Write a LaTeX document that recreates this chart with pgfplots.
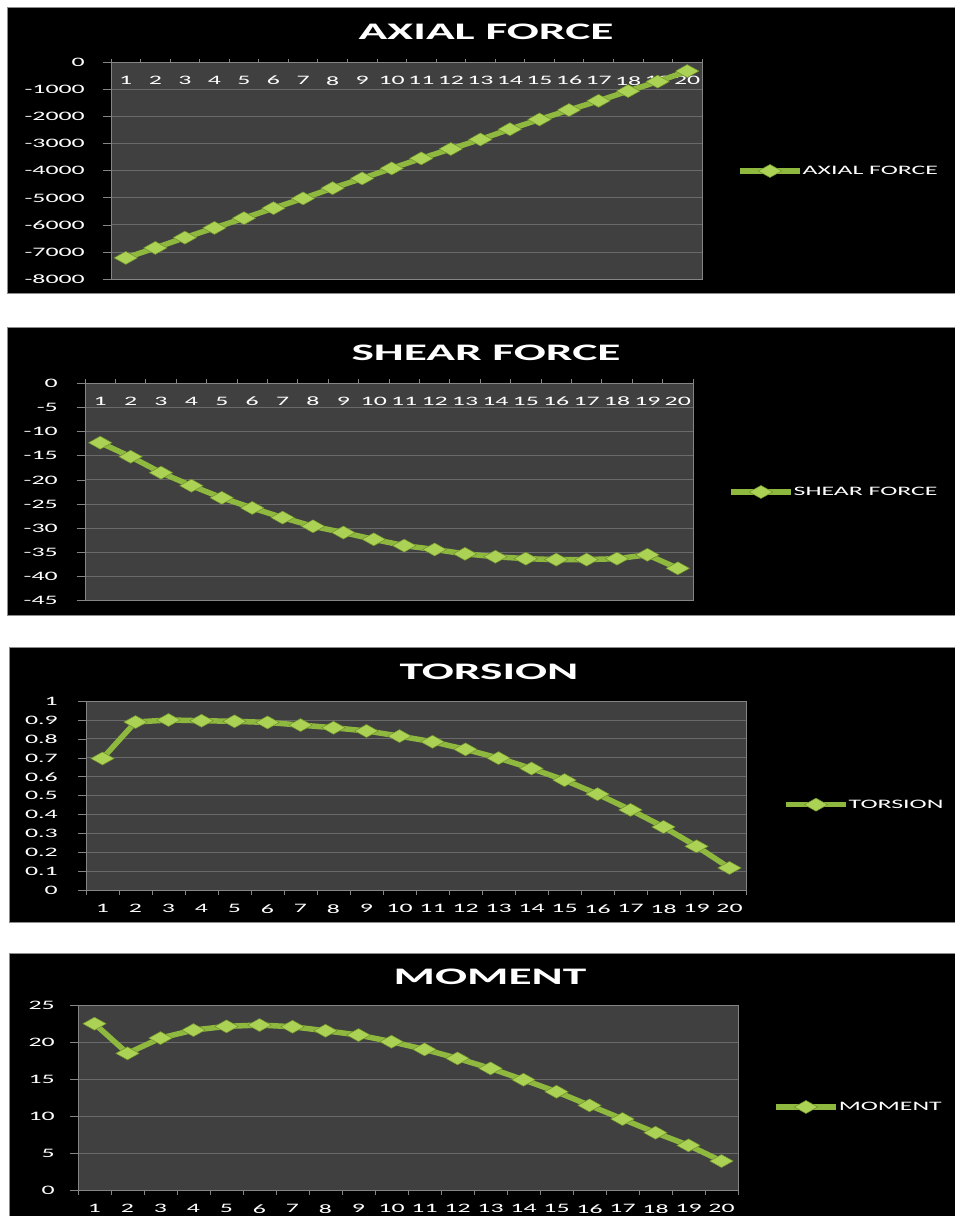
\documentclass[border=0pt]{standalone}
\usepackage{fontspec}
\setmainfont{Carlito}[FakeStretch=2]
\usepackage{pgfplots}
\pgfplotsset{compat=1.18}

\definecolor{plotbg}{HTML}{404040}
\definecolor{gridgray}{HTML}{6A6A6A}
\definecolor{axisgray}{HTML}{858585}
\definecolor{linegreen}{HTML}{8FB83F}
\definecolor{markgreen}{HTML}{ABD255}
\definecolor{markedge}{HTML}{6E8F2A}
\definecolor{paneledge}{HTML}{8C8C8C}

\newcommand\tickfont{\fontsize{12.9}{14}\selectfont}
\newcommand\titlefont{\fontsize{23.7}{26}\selectfont\bfseries}

\pgfplotsset{
  panel/.style={
    scale only axis,
    anchor=south west,
    xmin=0.5, xmax=20.5,
    axis background/.style={fill=plotbg},
    axis line style={draw=axisgray, line width=0.8pt},
    xtick={1,...,20},
    xtick style={draw=none},
    extra x ticks={0.5,1.5,...,20.5},
    extra x tick labels={},
    extra x tick style={grid=none, major tick length=4pt,
      xtick style={draw=axisgray, line width=0.8pt}},
    ymajorgrids,
    major grid style={draw=gridgray, line width=0.9pt},
    ytick pos=left,
    ytick style={draw=axisgray, line width=0.8pt},
    tick align=outside,
    major tick length=8pt,
    tick label style={font=\tickfont, text=white},
    /pgf/number format/assume math mode=true,
    legend style={draw=none, fill=none, text=white, font=\tickfont,
      inner sep=0pt, anchor=west, column sep=0pt,
      nodes={inner xsep=0pt, inner ysep=1pt}},
    legend image code/.code={\draw[##1, mark repeat=2, mark phase=2]
      plot coordinates {(0pt,0pt) (30pt,0pt) (60pt,0pt)};},
  },
  toplabels/.style={
    xtick pos=right,
    xticklabel pos=right,
    xticklabel style={anchor=center, yshift=-26pt},
  },
  bottomlabels/.style={
    xtick pos=left,
    xticklabel pos=left,
    xticklabel style={anchor=center, yshift=-10pt},
  },
  ylabelgap/.style={yticklabel style={inner sep=0pt, xshift=-#1}},
  curve/.style={color=linegreen, line width=5.5pt, mark=diamond*,
    mark size=6.5pt,
    mark options={fill=markgreen, draw=markedge, line width=0.5pt, xscale=2.4}},
}

\begin{document}
\begin{tikzpicture}
\useasboundingbox (0,0) rectangle (955pt,1216pt);
\fill[white] (0,0) rectangle (955pt,1216pt);

% black chart panels
\filldraw[fill=black, draw=paneledge, line width=0.8pt] (7pt,923pt) rectangle (956pt,1209pt);
\filldraw[fill=black, draw=paneledge, line width=0.8pt] (7pt,601pt) rectangle (956pt,889pt);
\filldraw[fill=black, draw=paneledge, line width=0.8pt] (9pt,294pt) rectangle (956pt,569pt);
\filldraw[fill=black, draw=paneledge, line width=0.8pt] (9pt,-1pt) rectangle (956pt,263pt);

% titles
\node[anchor=base, text=white, font=\titlefont] at (486pt,1176.5pt) {AXIAL FORCE};
\node[anchor=base, text=white, font=\titlefont] at (486pt,855.8pt) {SHEAR FORCE};
\node[anchor=base, text=white, font=\titlefont] at (489pt,536.8pt) {TORSION};
\node[anchor=base, text=white, font=\titlefont] at (490pt,231.8pt) {MOMENT};

% axial force
\begin{axis}[panel, toplabels, ylabelgap=18pt,
  at={(111pt,937pt)}, width=591pt, height=216.3pt,
  ymin=-8000, ymax=0,
  ytick={-8000,-7000,-6000,-5000,-4000,-3000,-2000,-1000,0},
  yticklabels={-8000,-7000,-6000,-5000,-4000,-3000,-2000,-1000,0},
  legend style={at={(1.0593,0.4993)}}]
\addplot[curve] coordinates {
  (1,-7220) (2,-6850) (3,-6470) (4,-6110) (5,-5750)
  (6,-5380) (7,-5020) (8,-4640) (9,-4280) (10,-3910)
  (11,-3540) (12,-3190) (13,-2840) (14,-2460) (15,-2100)
  (16,-1750) (17,-1410) (18,-1050) (19,-700) (20,-310)};
\addlegendentry{AXIAL FORCE}
\end{axis}

% shear force
\begin{axis}[panel, toplabels, ylabelgap=19pt,
  at={(85pt,615.3pt)}, width=608pt, height=217.4pt,
  ymin=-45, ymax=0,
  ytick={-45,-40,-35,-30,-25,-20,-15,-10,-5,0},
  yticklabels={-45,-40,-35,-30,-25,-20,-15,-10,-5,0},
  legend style={at={(1.0576,0.5)}}]
\addplot[curve] coordinates {
  (1,-12.3) (2,-15.2) (3,-18.5) (4,-21.2) (5,-23.7)
  (6,-25.8) (7,-27.8) (8,-29.6) (9,-30.9) (10,-32.3)
  (11,-33.6) (12,-34.4) (13,-35.3) (14,-35.9) (15,-36.3)
  (16,-36.5) (17,-36.5) (18,-36.3) (19,-35.5) (20,-38.3)};
\addlegendentry{SHEAR FORCE}
\end{axis}

% torsion
\begin{axis}[panel, bottomlabels, ylabelgap=20pt,
  at={(86pt,325.3pt)}, width=660pt, height=189.7pt,
  ymin=0, ymax=1,
  ytick={0,0.1,0.2,0.3,0.4,0.5,0.6,0.7,0.8,0.9,1},
  yticklabels={0,0.1,0.2,0.3,0.4,0.5,0.6,0.7,0.8,0.9,1},
  legend style={at={(1.0561,0.4534)}}]
\addplot[curve] coordinates {
  (1,0.697) (2,0.889) (3,0.900) (4,0.896) (5,0.893)
  (6,0.887) (7,0.873) (8,0.859) (9,0.842) (10,0.815)
  (11,0.785) (12,0.745) (13,0.699) (14,0.644) (15,0.583)
  (16,0.509) (17,0.426) (18,0.336) (19,0.234) (20,0.120)};
\addlegendentry{TORSION}
\end{axis}

% moment
\begin{axis}[panel, bottomlabels, ylabelgap=15pt,
  at={(78pt,25.3pt)}, width=660pt, height=185.3pt,
  ymin=0, ymax=25,
  ytick={0,5,10,15,20,25},
  yticklabels={0,5,10,15,20,25},
  legend style={at={(1.0531,0.4517)}}]
\addplot[curve] coordinates {
  (1,22.53) (2,18.53) (3,20.59) (4,21.67) (5,22.17)
  (6,22.35) (7,22.12) (8,21.58) (9,21.00) (10,20.10)
  (11,19.06) (12,17.85) (13,16.50) (14,14.97) (15,13.35)
  (16,11.51) (17,9.67) (18,7.82) (19,6.12) (20,4.00)};
\addlegendentry{MOMENT}
\end{axis}
\end{tikzpicture}
\end{document}
